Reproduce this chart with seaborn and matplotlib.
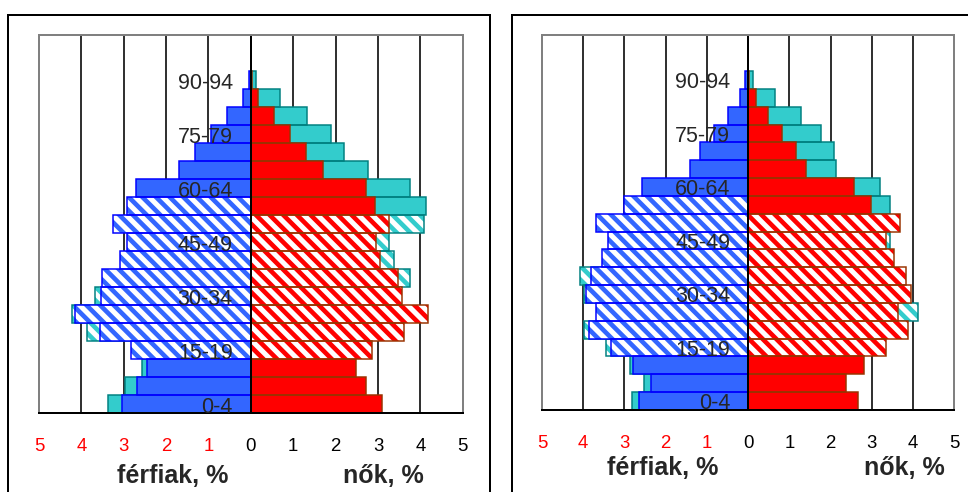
import matplotlib
matplotlib.use("Agg")
import matplotlib.pyplot as plt
import seaborn as sns
from matplotlib.patches import Rectangle

# --- Data: age groups, bottom row first ---
AGES = ["0-4", "5-9", "10-14", "15-19", "20-24", "25-29", "30-34", "35-39",
        "40-44", "45-49", "50-54", "55-59", "60-64", "65-69", "70-74",
        "75-79", "80-84", "85-89", "90-94", "95-99", "100+"]
AGE_LABELS = ["0-4", "15-19", "30-34", "45-49", "60-64", "75-79", "90-94"]
MEN_WORKING = AGES[3:12]    # 15-59, drawn hatched
WOMEN_WORKING = AGES[3:11]  # 15-54, drawn hatched

X_TICKS = [-5, -4, -3, -2, -1, 0, 1, 2, 3, 4, 5]
X_TICK_LABELS = ["5", "4", "3", "2", "1", "0", "1", "2", "3", "4", "5"]

# left pyramid (%)
men_left = [3.04, 2.68, 2.44, 2.84, 3.57, 4.14, 3.53, 3.51, 3.08, 2.92, 3.25,
            2.92, 2.70, 1.70, 1.32, 0.95, 0.57, 0.19, 0.05, 0, 0]
men_left_extra = [0.32, 0.30, 0.12, 0, 0.30, 0.08, 0.16, 0, 0, 0, 0,
                  0, 0, 0, 0, 0, 0, 0, 0, 0, 0]
women_left = [3.10, 2.72, 2.48, 2.85, 3.62, 4.19, 3.56, 3.48, 3.06, 2.95, 3.25,
              2.92, 2.71, 1.70, 1.31, 0.93, 0.55, 0.18, 0.02, 0, 0]
women_left_extra = [0, 0, 0, 0, 0, 0, 0, 0.28, 0.32, 0.31, 0.84,
                    1.21, 1.05, 1.06, 0.89, 0.97, 0.78, 0.50, 0.10, 0, 0]

# right pyramid (%)
men_right = [2.65, 2.36, 2.79, 3.33, 3.86, 3.69, 3.92, 3.82, 3.54, 3.40, 3.68,
             3.01, 2.57, 1.41, 1.17, 0.83, 0.50, 0.20, 0.08, 0, 0]
men_right_extra = [0.16, 0.17, 0.08, 0.12, 0.12, 0, 0.06, 0.26, 0, 0, 0,
                   0, 0, 0, 0, 0, 0, 0, 0, 0, 0]
women_right = [2.67, 2.38, 2.81, 3.34, 3.88, 3.64, 3.94, 3.82, 3.54, 3.35, 3.68,
               2.99, 2.56, 1.40, 1.16, 0.82, 0.47, 0.18, 0.02, 0, 0]
women_right_extra = [0, 0, 0, 0, 0, 0.48, 0, 0, 0, 0.08, 0,
                     0.45, 0.63, 0.74, 0.93, 0.94, 0.80, 0.47, 0.10, 0, 0]

# --- Style ---
BLUE, BLUE_EDGE = "#3366FF", "#0000FF"
RED, RED_EDGE = "#FF0000", "#993300"
CYAN, CYAN_EDGE = "#33CCCC", "#008080"
GRAY = "#808080"

DPI = 82          # hatch "\\\\" then gives stripes ~14 px apart
W, H = 968, 492
HATCH_LW = 4.6    # px


def px(v):
    # pixels -> points at this dpi
    return v * 72 / DPI


sns.set_style("white")
plt.rcParams["font.family"] = ["Liberation Sans", "DejaVu Sans"]
plt.rcParams["hatch.linewidth"] = px(HATCH_LW)
plt.rcParams["axes.axisbelow"] = False


def bar_layer(ax, values, sign, fill, edge, hatched_ages):
    top_down = AGES[::-1]
    sns.barplot(x=[sign * v for v in values], y=AGES, order=top_down, orient="h",
                color=fill, saturation=1, width=1.0, errorbar=None, linewidth=0, ax=ax)
    for bar in ax.containers[-1]:
        age = top_down[round(bar.get_y() + bar.get_height() / 2)]
        if age in hatched_ages:
            bar.set_facecolor("white")
            bar.set_edgecolor(fill)
            bar.set_hatch("\\\\")
            bar.set_hatch_linewidth(px(HATCH_LW))
    # outlines on top
    sns.barplot(x=[sign * v for v in values], y=AGES, order=top_down, orient="h",
                color=edge, saturation=1, width=1.0, errorbar=None, ax=ax)
    for bar in ax.containers[-1]:
        bar.set_facecolor("none")
        bar.set_edgecolor(edge)
        bar.set_linewidth(px(1.5) if bar.get_width() != 0 else 0)


def pyramid(ax, men, men_extra, women, women_extra):
    for x in X_TICKS:
        if x not in (-5, 0, 5):
            ax.axvline(x, color="black", lw=px(1.6), zorder=0.5)
    men_total = [m + e if e > 0 else 0 for m, e in zip(men, men_extra)]
    women_total = [w + e if e > 0 else 0 for w, e in zip(women, women_extra)]
    bar_layer(ax, men_total, -1, CYAN, CYAN_EDGE, MEN_WORKING)
    bar_layer(ax, women_total, 1, CYAN, CYAN_EDGE, WOMEN_WORKING)
    bar_layer(ax, men, -1, BLUE, BLUE_EDGE, MEN_WORKING)
    bar_layer(ax, women, 1, RED, RED_EDGE, WOMEN_WORKING)

    ax.set_axisbelow(False)
    ax.set_xlim(-5, 5)
    ax.set_ylim(len(AGES) - 0.5, -0.5)
    ax.set_xlabel("")
    ax.set_ylabel("")

    ax.set_xticks(X_TICKS, X_TICK_LABELS)
    ax.tick_params(axis="x", direction="out", length=px(6.7), width=px(2),
                   color="black", pad=px(18), labelsize=px(18.6))
    for lab, v in zip(ax.get_xticklabels(), X_TICKS):
        lab.set_color("red" if v < 0 else "black")

    # vertical axis through zero, ticks between age groups
    ax.spines["left"].set_position(("data", 0))
    ax.spines["left"].set_color("black")
    ax.spines["left"].set_linewidth(px(2))
    ax.set_yticks([i - 0.5 for i in range(len(AGES) + 1)])
    top_down = AGES[::-1]
    ax.set_yticks([top_down.index(a) for a in AGE_LABELS], AGE_LABELS, minor=True)
    ax.tick_params(axis="y", which="major", direction="out", length=px(6),
                   width=px(2), color="black", labelleft=False)
    ax.tick_params(axis="y", which="minor", length=0, pad=px(18),
                   labelsize=px(21.5), labelleft=True)

    for side in ("top", "right"):
        ax.spines[side].set_color(GRAY)
        ax.spines[side].set_linewidth(px(2))
    ax.spines["bottom"].set_color("black")
    ax.spines["bottom"].set_linewidth(px(2))
    ax.axvline(-5, color=GRAY, lw=px(2), clip_on=False, zorder=2.5)


fig = plt.figure(figsize=((W + 0.4) / DPI, (H + 0.4) / DPI), dpi=DPI)

ax_l = fig.add_axes([39 / W, (H - 413.3) / H, 423.5 / W, 377.6 / H])
pyramid(ax_l, men_left, men_left_extra, women_left, women_left_extra)

ax_r = fig.add_axes([541.7 / W, (H - 410) / H, 412.3 / W, 374.3 / H])
pyramid(ax_r, men_right, men_right_extra, women_right, women_right_extra)

# --- chart frames ---
fig.add_artist(Rectangle((8 / W, -0.1), (490 - 8) / W, (H - 15) / H + 0.1,
                         transform=fig.transFigure, fill=False, ec="black", lw=px(2)))
fig.add_artist(Rectangle((511.5 / W, -0.1), 0.6, (H - 15) / H + 0.1,
                         transform=fig.transFigure, fill=False, ec="black", lw=px(2)))

# --- axis titles ---
label_kw = dict(ha="center", va="baseline", fontsize=px(25), fontweight="bold")
fig.text(173 / W, 1 - 483 / H, "férfiak, %", **label_kw)
fig.text(383 / W, 1 - 483 / H, "nők, %", **label_kw)
fig.text(662 / W, 1 - 475 / H, "férfiak, %", **label_kw)
fig.text(904 / W, 1 - 475 / H, "nők, %", **label_kw)

fig.savefig("out.png", dpi=DPI)
plt.close()
